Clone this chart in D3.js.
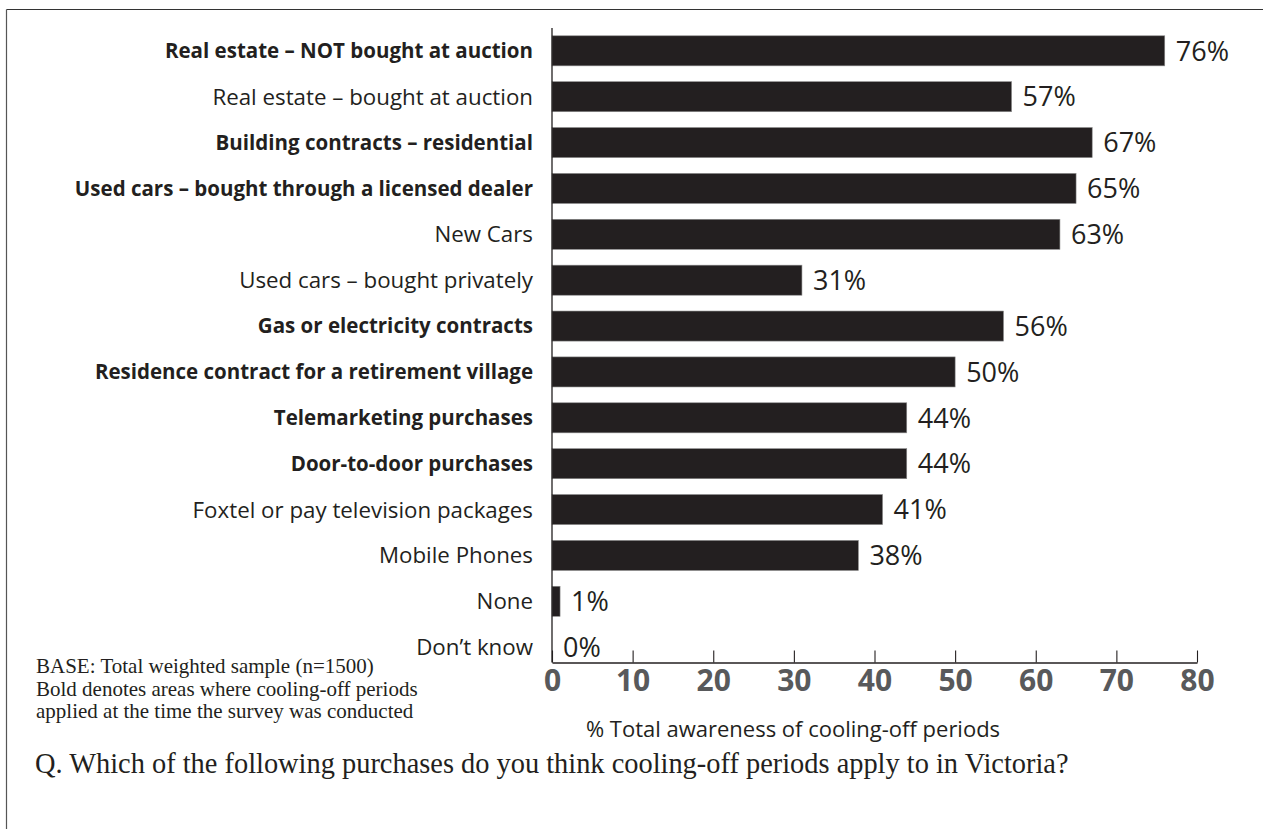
<!DOCTYPE html>
<html>
<head>
<meta charset="utf-8">
<script src="https://cdn.jsdelivr.net/npm/d3@7"></script>
<style>
  html, body { margin: 0; padding: 0; background: #fff; }
  svg { display: block; }
</style>
</head>
<body>
<svg id="chart" width="1263" height="829"></svg>
<script>
// Purchase categories, awareness share (%) and whether a cooling-off period applied (bold)
const categories = [
  "Real estate – NOT bought at auction",
  "Real estate – bought at auction",
  "Building contracts – residential",
  "Used cars – bought through a licensed dealer",
  "New Cars",
  "Used cars – bought privately",
  "Gas or electricity contracts",
  "Residence contract for a retirement village",
  "Telemarketing purchases",
  "Door-to-door purchases",
  "Foxtel or pay television packages",
  "Mobile Phones",
  "None",
  "Don’t know"
];
const values = [76, 57, 67, 65, 63, 31, 56, 50, 44, 44, 41, 38, 1, 0];
const applies = [true, false, true, true, false, false, true, true, true, true, false, false, false, false];
const xTicks = [0, 10, 20, 30, 40, 50, 60, 70, 80];

const footnotes = [
  "BASE: Total weighted sample (n=1500)",
  "Bold denotes areas where cooling-off periods",
  "applied at the time the survey was conducted"
];
const axisTitle = "% Total awareness of cooling-off periods";
const question = "Q. Which of the following purchases do you think cooling-off periods apply to in Victoria?";

const svg = d3.select("#chart");
const sans = "'Open Sans', 'Noto Sans', sans-serif";
const serif = "'Liberation Serif', 'Times New Roman', serif";

// Frame: top and left rules
svg.append("line").attr("x1", 6.5).attr("x2", 1263).attr("y1", 9.5).attr("y2", 9.5)
  .attr("stroke", "#333").attr("stroke-width", 1.2);
svg.append("line").attr("x1", 6.5).attr("x2", 6.5).attr("y1", 9.5).attr("y2", 829)
  .attr("stroke", "#555").attr("stroke-width", 1.2);

const x = d3.scaleLinear().domain([0, 80]).range([552, 1197]);
const y = d3.scaleBand().domain(categories).range([28, 670]).paddingInner(0.345).paddingOuter(0.17);
const axisY = 662.5;

// Bars
svg.append("g").selectAll("rect").data(categories).join("rect")
  .attr("x", x(0))
  .attr("y", d => y(d))
  .attr("width", (d, i) => x(values[i]) - x(0))
  .attr("height", y.bandwidth())
  .attr("fill", "#231f20")
  .attr("stroke", "#8a8a8a")
  .attr("stroke-width", 0.6);

// Value labels
svg.append("g").selectAll("text").data(categories).join("text")
  .attr("x", (d, i) => x(values[i]) + 11)
  .attr("y", d => y(d) + y.bandwidth() / 2)
  .attr("dy", "0.36em")
  .attr("font-family", sans)
  .attr("font-size", 27)
  .attr("fill", "#231f20")
  .text((d, i) => values[i] + "%");

// Category labels
svg.append("g").selectAll("text").data(categories).join("text")
  .attr("x", 533)
  .attr("y", d => y(d) + y.bandwidth() / 2)
  .attr("dy", "0.36em")
  .attr("text-anchor", "end")
  .attr("font-family", sans)
  .attr("font-size", (d, i) => applies[i] ? 20.5 : 22.3)
  .attr("font-weight", (d, i) => applies[i] ? 700 : 400)
  .attr("fill", "#231f20")
  .text(d => d);

// Vertical axis line
svg.append("line").attr("x1", x(0)).attr("x2", x(0)).attr("y1", 28).attr("y2", axisY)
  .attr("stroke", "#231f20").attr("stroke-width", 1.3);

// Bottom axis with upward ticks
const xAxis = d3.axisBottom(x).tickValues(xTicks).tickSizeInner(-12).tickSizeOuter(0).tickFormat(d3.format("d"));
const gx = svg.append("g").attr("transform", `translate(0,${axisY})`).call(xAxis);
gx.select(".domain").attr("stroke", "#231f20").attr("stroke-width", 1.3);
gx.selectAll(".tick line").attr("stroke", "#231f20").attr("stroke-width", 1.1);
gx.selectAll(".tick text")
  .attr("y", 0).attr("dy", 0)
  .attr("transform", "translate(0,28)")
  .attr("font-family", sans)
  .attr("font-size", 30)
  .attr("font-weight", 700)
  .attr("fill", "#58595b");

// Axis title
svg.append("text")
  .attr("x", 793).attr("y", 737)
  .attr("text-anchor", "middle")
  .attr("font-family", sans)
  .attr("font-size", 22)
  .attr("fill", "#231f20")
  .text(axisTitle);

// Footnotes
svg.append("g").selectAll("text").data(footnotes).join("text")
  .attr("x", 36)
  .attr("y", (d, i) => 673 + i * 22.5)
  .attr("font-family", serif)
  .attr("font-size", 21)
  .attr("fill", "#231f20")
  .text(d => d);

// Survey question
svg.append("text")
  .attr("x", 35).attr("y", 773)
  .attr("font-family", serif)
  .attr("font-size", 28.4)
  .attr("fill", "#231f20")
  .text(question);
</script>
</body>
</html>
